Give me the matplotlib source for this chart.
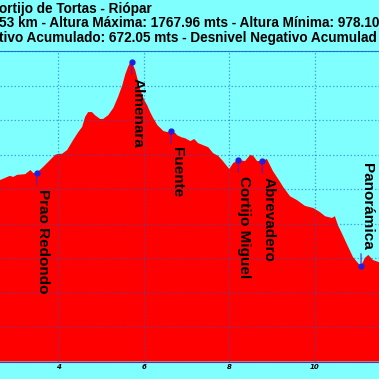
import numpy as np
import matplotlib.pyplot as plt

# profile (km, altitude in m) - visible stretch of the route
km = [2.64, 2.87, 2.95, 3.04, 3.23, 3.35, 3.42, 3.50, 3.65, 3.81, 3.93, 4.00, 4.09, 4.21,
      4.35, 4.47, 4.56, 4.63, 4.70, 4.79, 4.86, 4.98, 5.05, 5.17, 5.29, 5.40, 5.50, 5.57,
      5.64, 5.68, 5.72, 5.80, 5.92, 6.01, 6.08, 6.15, 6.22, 6.32, 6.46, 6.55, 6.64, 6.74,
      6.78, 6.88, 6.97, 7.09, 7.18, 7.27, 7.39, 7.51, 7.62, 7.74, 7.83, 8.00, 8.09, 8.21,
      8.37, 8.49, 8.56, 8.65, 8.77, 8.88, 9.02, 9.19, 9.26, 9.42, 9.58, 9.77, 9.96, 10.12,
      10.24, 10.40, 10.47, 10.54, 10.63, 10.78, 10.89, 11.01, 11.08, 11.17, 11.25, 11.36, 11.50]
alt = [1426, 1438, 1435, 1441, 1443, 1455, 1446, 1447, 1464, 1484, 1499, 1502, 1502, 1513,
       1542, 1565, 1580, 1609, 1623, 1623, 1614, 1603, 1603, 1614, 1635, 1667, 1701, 1733,
       1756, 1765, 1768, 1745, 1687, 1658, 1643, 1623, 1606, 1585, 1568, 1565, 1568, 1562,
       1556, 1550, 1547, 1539, 1545, 1533, 1527, 1521, 1504, 1496, 1484, 1458, 1475, 1484,
       1481, 1499, 1496, 1481, 1481, 1487, 1452, 1420, 1406, 1379, 1368, 1351, 1345, 1333,
       1321, 1316, 1321, 1295, 1272, 1232, 1203, 1185, 1177, 1200, 1209, 1194, 1188]

# waypoints
wp_names = ["Prao Redondo", "Almenara", "Fuente", "Cortijo Miguel", "Abrevadero", "Panorámica"]
wp_km = [3.50, 5.72, 6.64, 8.21, 8.77, 11.08]
wp_alt = [1447, 1768, 1568, 1484, 1481, 1177]
wp_above = [False, False, False, False, False, True]

title_lines = ["ortijo de Tortas - Riópar",
               "53 km - Altura Máxima: 1767.96 mts - Altura Mínima: 978.10",
               "tivo Acumulado: 672.05 mts - Desnivel Negativo Acumulad"]

bg = '#80ffff'
fig = plt.figure(figsize=(3.79, 3.79), dpi=100, facecolor=bg)
ax = fig.add_axes([0, 17.5 / 379, 1, 310.5 / 379], facecolor=bg)

ax.fill_between(km, alt, 900, color='#ff0000', lw=0, zorder=2)
ax.set_xticks([4, 6, 8, 10])
ax.set_yticks(np.arange(900, 1801, 100))
ax.set_xlim(2.64, 11.50)
ax.set_ylim(900, 1800)
ax.set_yticklabels([])
ax.tick_params(length=0, labelsize=5, pad=2)
for t in ax.get_xticklabels():
    t.set_fontweight('bold')
    t.set_fontstyle('italic')
ax.grid(True, color='#1060d8', alpha=0.55, ls=(0, (1.2, 1.6)), lw=0.9, zorder=3)
ax.set_axisbelow(False)
for s in ['left', 'right']:
    ax.spines[s].set_visible(False)
ax.spines['top'].set_color('#3070d0')
ax.spines['bottom'].set_color('#6030a0')

# waypoint markers and labels
for name, x, y, above in zip(wp_names, wp_km, wp_alt, wp_above):
    ax.plot(x, y, 'o', color='#2020e0', ms=3.5, zorder=5)
    if above:
        ax.annotate('', xy=(x, y), xytext=(0, 15), textcoords='offset pixels',
                    arrowprops=dict(arrowstyle='-', color='#5020c0', lw=0.8), zorder=4)
        ax.annotate(name, xy=(x, y), xytext=(-1, 16), textcoords='offset pixels',
                    rotation=-90, ha='left', va='bottom', fontsize=11, fontweight='bold',
                    family='Liberation Sans', zorder=6)
    else:
        ax.annotate('', xy=(x, y), xytext=(0, -15), textcoords='offset pixels',
                    arrowprops=dict(arrowstyle='-', color='#5020c0', lw=0.8), zorder=4)
        ax.annotate(name, xy=(x, y), xytext=(-1, -16), textcoords='offset pixels',
                    rotation=-90, ha='left', va='top', fontsize=11, fontweight='bold',
                    family='Liberation Sans', zorder=6)

for i, line in enumerate(title_lines):
    fig.text(-1 / 379, 1 - (12.5 + 14.7 * i) / 379, line, ha='left', va='baseline',
             fontsize=9.8, fontweight='bold', family='Liberation Sans')

fig.savefig('out.png', dpi=100, facecolor=bg)
